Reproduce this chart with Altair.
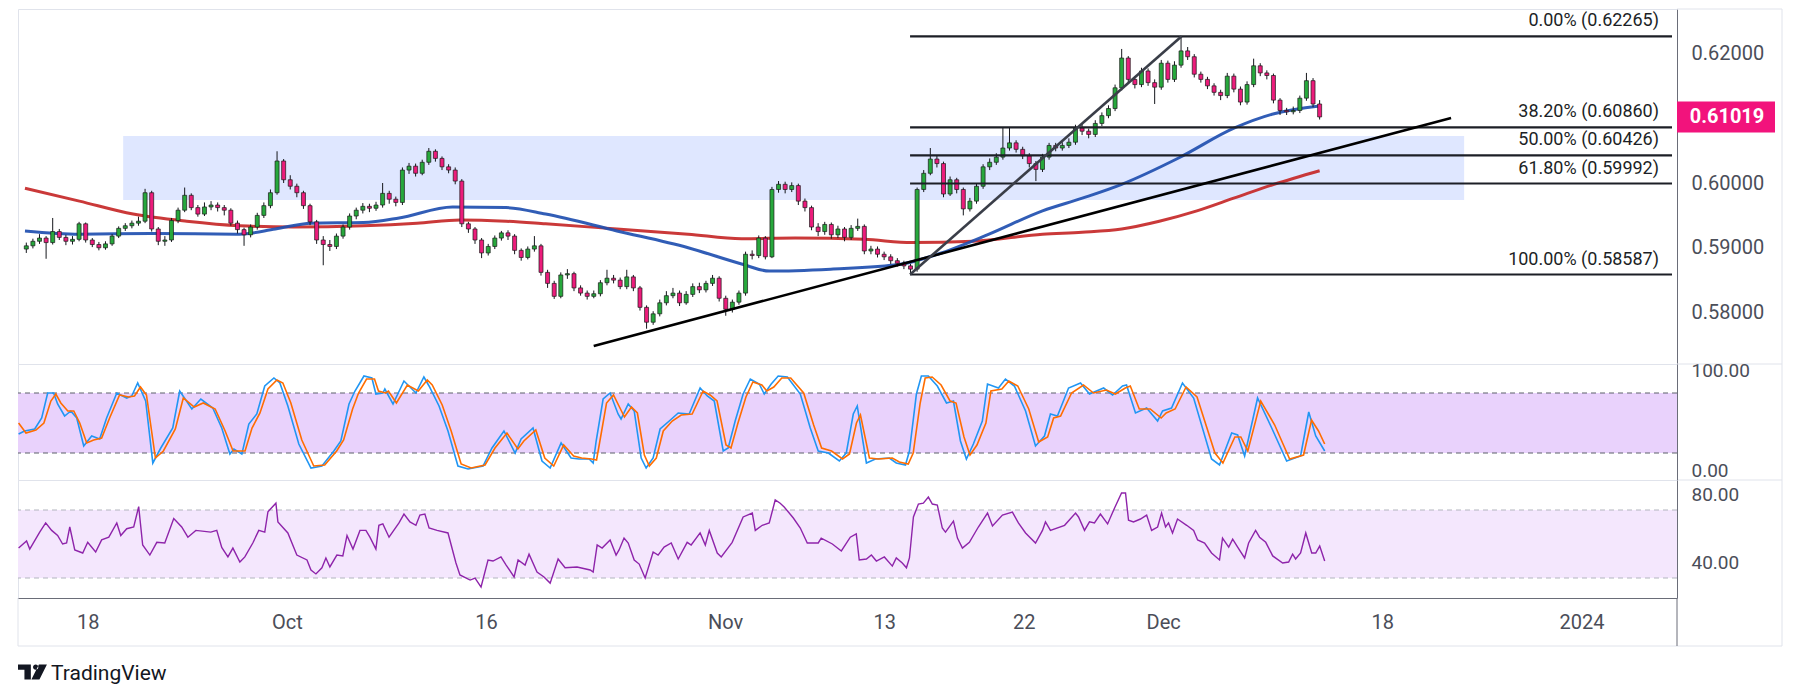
import altair as alt
import pandas as pd

# ---------------- data ----------------
TICK_DAYS = [0, 10, 20, 32, 40, 47, 54, 65, 75]
TICK_LABELS = ["18", "Oct", "16", "Nov", "13", "22", "Dec", "18", "2024"]

BARS_PER_DAY = 3
FIRST_BAR_DAY = -10 / 3
FIRST_OPEN = 5898  # price in 1e-4 units

CLOSE = [5903,5910,5915,5908,5925,5916,5910,5913,5937,5912,
         5905,5900,5906,5918,5930,5934,5938,5941,5985,5929,
         5910,5912,5942,5958,5981,5962,5952,5963,5966,5962,
         5958,5938,5928,5920,5932,5950,5965,5985,6034,6005,
         5995,5985,5965,5940,5912,5905,5902,5918,5932,5949,
         5958,5964,5961,5966,5984,5975,5970,6020,6026,6015,
         6032,6049,6038,6025,6020,6003,5937,5929,5912,5892,
         5902,5915,5923,5918,5896,5885,5898,5903,5862,5845,
         5825,5858,5860,5838,5830,5825,5829,5846,5853,5850,
         5840,5855,5838,5808,5785,5798,5815,5826,5830,5815,
         5828,5840,5835,5845,5853,5822,5805,5816,5830,5890,
         5888,5915,5886,5990,5998,5990,5996,5972,5962,5932,
         5925,5936,5920,5929,5916,5930,5933,5895,5898,5890,
         5886,5880,5876,5872,5867,5990,6015,6037,6030,5983,
         6005,5990,5960,5972,5995,6025,6032,6040,6054,6062,
         6052,6042,6030,6021,6040,6058,6054,6058,6063,6085,
         6080,6075,6092,6104,6115,6147,6193,6160,6152,6173,
         6155,6148,6185,6160,6182,6204,6195,6168,6160,6150,
         6140,6135,6165,6145,6125,6152,6181,6170,6166,6128,
         6112,6110,6112,6131,6158,6122,6102]
HIGH = [5908,5914,5921,5918,5946,5929,5920,5918,5940,5939,
        5915,5909,5910,5921,5933,5938,5942,5948,5991,5988,
        5932,5918,5946,5962,5993,5984,5966,5970,5972,5970,
        5966,5961,5942,5931,5936,5954,5970,5990,6049,6037,
        6012,5999,5988,5968,5943,5918,5912,5922,5936,5953,
        5962,5969,5968,5971,6000,5988,5979,6024,6031,6030,
        6036,6054,6052,6041,6029,6024,6006,5940,5932,5915,
        5906,5919,5926,5927,5921,5899,5902,5918,5906,5866,
        5849,5862,5867,5863,5842,5834,5834,5850,5866,5858,
        5854,5866,5858,5841,5811,5802,5820,5833,5838,5834,
        5833,5845,5846,5849,5858,5856,5826,5820,5834,5894,
        5896,5919,5918,5994,6003,6002,6001,5999,5976,5965,
        5938,5940,5939,5934,5932,5935,5945,5936,5903,5902,
        5894,5890,5884,5880,5875,5993,6020,6054,6042,6033,
        6010,6008,5993,5977,5999,6029,6038,6046,6085,6085,
        6066,6056,6046,6034,6045,6062,6062,6063,6069,6090,
        6091,6084,6097,6109,6120,6152,6207,6196,6165,6178,
        6177,6160,6190,6189,6188,6227,6210,6199,6172,6164,
        6154,6144,6170,6169,6149,6157,6192,6185,6174,6169,
        6131,6116,6118,6135,6170,6162,6128]
LOW = [5892,5899,5906,5883,5905,5912,5904,5905,5910,5908,
       5901,5896,5897,5903,5915,5926,5930,5934,5938,5925,
       5904,5903,5909,5938,5955,5958,5948,5949,5958,5956,
       5950,5934,5922,5903,5916,5928,5946,5961,5982,6000,
       5990,5978,5960,5935,5906,5873,5895,5898,5914,5928,
       5944,5953,5955,5957,5962,5968,5964,5966,6014,6010,
       6012,6028,6033,6020,6015,5998,5932,5923,5906,5884,
       5888,5898,5911,5912,5890,5880,5882,5894,5857,5838,
       5821,5822,5852,5833,5826,5820,5822,5825,5842,5845,
       5836,5836,5833,5803,5775,5781,5794,5811,5822,5810,
       5812,5824,5830,5831,5841,5817,5795,5800,5812,5826,
       5882,5884,5882,5884,5985,5984,5986,5966,5956,5927,
       5918,5920,5914,5915,5910,5912,5926,5890,5890,5885,
       5881,5875,5871,5867,5859,5863,5986,6012,6024,5978,
       5980,5984,5950,5956,5968,5991,6020,6028,6036,6050,
       6047,6037,6024,6003,6017,6036,6049,6050,6054,6059,
       6074,6069,6071,6088,6100,6111,6143,6155,6146,6148,
       6150,6122,6144,6155,6156,6178,6190,6163,6155,6145,
       6135,6128,6131,6140,6120,6121,6148,6165,6160,6123,
       6105,6105,6106,6108,6127,6117,6098]

MA200_DAY = [-3.4,-0.65,2.06,4.77,7.44,10.15,13.7,16.4,18.6,20.9,22.9,26.5,30.1,
             32.8,35.5,39.0,41.4,44.5,48.0,50.0,52.0,53.9,55.8,57.7,59.7,62.0]
MA200_VAL = [5992,5972,5952,5941,5934,5932,5934,5938,5943,5941,5937,5929,5921,
             5914,5915,5913,5908,5910,5921,5924,5929,5941,5957,5977,5998,6019]
MA50_DAY = [-3.4,-0.65,2.96,7.44,9.25,11.06,13.7,15.5,18.2,20.9,22.9,26.5,30.1,
            32.8,34.2,37.3,40.9,42.7,45.3,48.0,50.05,52.0,54.9,57.7,59.7,62.0]
MA50_VAL = [5926,5921,5922,5921,5929,5938,5939,5946,5963,5962,5952,5926,5900,
            5875,5864,5867,5875,5890,5921,5957,5977,5998,6039,6085,6107,6119]

K_DAY = [-3.47,-3.17,-2.66,-2.31,-2.01,-1.71,-1.51,-1.16,-0.85,-0.55,
         -0.20,0.20,0.60,0.95,1.46,1.96,2.21,2.51,2.91,3.27,
         3.67,4.27,4.62,5.23,5.68,6.28,6.73,7.14,7.34,7.74,
         8.09,8.49,8.89,9.35,9.65,10.05,10.60,11.21,11.76,12.36,
         12.71,13.12,13.42,13.87,14.27,14.47,14.82,14.92,15.33,15.88,
         16.48,16.88,17.14,17.64,18.09,18.59,19.10,19.85,20.30,20.90,
         21.46,21.76,22.36,22.81,23.22,23.77,24.27,24.67,25.18,25.38,
         25.53,25.88,26.23,26.63,26.78,27.14,27.44,27.79,28.04,28.39,
         28.74,29.20,29.65,30.20,30.75,31.11,31.46,31.91,32.16,32.51,
         32.91,33.27,33.72,33.97,34.32,34.67,35.13,35.78,36.28,36.68,
         37.19,37.74,38.09,38.44,38.64,39.10,39.55,40.25,40.60,41.06,
         41.26,41.61,41.86,42.21,42.66,43.12,43.47,43.82,44.12,44.47,
         44.92,45.18,45.73,46.08,46.53,47.09,47.59,48.04,48.34,48.69,
         49.25,49.85,50.30,51.01,51.46,51.96,52.16,52.61,53.17,53.72,
         53.97,54.42,54.97,55.53,56.43,56.83,57.44,57.74,58.09,58.74,
         59.45,60.20,60.90,61.31,61.66,62.11]
K_VAL = [39,42,44,55,80,80,69,57,62,55,
         27,37,34,55,80,75,77,90,72,10,
         25,45,82,64,74,65,45,19,24,19,
         49,59,87,95,90,67,29,5,7,22,
         32,69,82,97,95,79,80,84,69,92,
         80,96,87,67,42,7,4,7,25,42,
         20,34,45,12,5,30,15,14,14,10,
         32,74,80,59,54,69,62,15,5,15,
         44,52,60,59,85,77,72,22,25,52,
         79,94,89,79,89,97,96,79,45,22,
         20,12,20,59,67,10,14,15,10,8,
         22,79,97,97,87,70,72,32,14,29,
         52,89,85,94,87,62,27,37,59,57,
         85,90,79,85,78,87,88,60,65,52,
         62,65,90,75,14,8,40,38,17,75,
         45,12,17,61,37,22]

D_DAY = [-3.47,-3.1,-2.6,-2.2,-1.85,-1.6,-1.35,-1.0,-0.7,-0.4,
         -0.05,0.3,0.7,1.1,1.6,2.05,2.35,2.65,2.95,3.4,
         3.8,4.4,4.8,5.35,5.8,6.4,6.9,7.3,7.55,7.9,
         8.25,8.65,9.05,9.5,9.8,10.2,10.75,11.35,11.9,12.5,
         12.85,13.3,13.6,14.0,14.4,14.6,14.95,15.1,15.5,16.05,
         16.6,17.05,17.3,17.8,18.25,18.75,19.25,19.95,20.45,21.05,
         21.6,21.9,22.5,22.95,23.4,23.9,24.4,24.8,25.3,25.55,
         25.7,26.05,26.4,26.8,26.95,27.3,27.6,27.95,28.2,28.55,
         28.9,29.35,29.8,30.35,30.9,31.25,31.6,32.05,32.3,32.65,
         33.05,33.4,33.85,34.1,34.45,34.85,35.3,35.95,36.45,36.85,
         37.35,37.9,38.25,38.6,38.8,39.25,39.7,40.4,40.75,41.2,
         41.45,41.8,42.05,42.4,42.85,43.3,43.6,44.0,44.3,44.65,
         45.1,45.35,45.9,46.25,46.7,47.25,47.75,48.2,48.5,48.85,
         49.4,50.0,50.5,51.15,51.6,52.1,52.35,52.8,53.35,53.9,
         54.15,54.6,55.15,55.7,56.6,57.0,57.6,57.9,58.25,58.9,
         59.6,60.35,61.05,61.45,61.8,62.11]
D_VAL = [50,40,43,50,72,79,70,62,62,50,
         30,33,35,55,78,76,77,86,78,15,
         22,44,75,66,70,64,42,22,22,22,
         45,60,84,93,90,70,33,7,8,22,
         33,64,80,94,94,82,80,82,70,88,
         82,93,88,68,42,9,5,8,25,40,
         24,32,43,15,7,28,17,15,14,13,
         30,70,78,62,56,66,60,18,7,15,
         42,52,58,59,82,78,72,28,25,50,
         76,91,88,82,86,95,95,80,48,25,
         22,14,19,50,58,15,14,15,11,9,
         20,70,95,96,88,72,70,36,18,28,
         50,82,84,92,87,64,31,36,55,57,
         80,88,80,83,79,85,87,64,64,55,
         60,64,86,76,20,10,36,36,22,72,
         48,14,18,53,42,29]

RSI_DAY = [-3.47,-3.07,-2.91,-2.66,-2.41,-2.11,-1.81,-1.51,-1.26,-1.06,
           -0.90,-0.65,-0.25,0.00,0.40,0.70,1.06,1.46,1.66,1.96,
           2.31,2.56,2.76,3.12,3.47,3.87,4.32,4.72,5.03,5.43,
           6.18,6.48,6.73,7.04,7.29,7.64,7.89,8.29,8.59,8.89,
           9.05,9.45,9.55,10.05,10.50,11.01,11.21,11.46,11.76,11.96,
           12.16,12.51,12.81,13.02,13.32,13.67,13.97,14.17,14.47,14.62,
           14.82,15.13,15.63,15.88,16.18,16.48,16.68,16.93,17.14,17.54,
           18.09,18.49,18.69,19.20,19.45,19.75,20.10,20.35,20.75,21.01,
           21.41,21.61,21.96,22.16,22.56,22.91,23.22,23.62,23.97,24.57,
           25.23,25.38,25.58,25.83,26.23,26.53,26.68,26.93,27.14,27.44,
           27.69,27.99,28.39,28.64,28.94,29.30,29.65,30.10,30.30,30.75,
           31.01,31.21,31.61,31.81,32.36,32.91,33.37,33.52,33.87,34.22,
           34.52,34.77,34.97,35.43,35.78,36.13,36.68,36.83,37.39,37.84,
           38.29,38.59,38.74,39.10,39.35,39.60,40.00,40.40,40.60,40.90,
           41.11,41.26,41.46,41.71,41.96,42.21,42.41,42.66,42.91,43.07,
           43.47,43.67,43.92,44.27,44.72,45.18,45.43,45.93,46.43,46.73,
           47.09,47.59,47.94,48.09,48.34,49.05,49.60,49.75,50.05,50.30,
           50.55,50.85,51.21,51.56,51.91,52.11,52.26,52.51,52.86,53.17,
           53.42,53.72,53.92,54.12,54.27,54.47,54.72,55.18,55.53,55.73,
           56.08,56.43,56.83,56.98,57.29,57.49,57.74,58.09,58.29,58.64,
           58.84,59.15,59.50,60.00,60.30,60.50,60.65,60.90,61.16,61.46,
           61.66,61.86,62.11]
RSI_VAL = [47.6,51.8,47,52,57,62.4,58,55,50,50.6,
           60,46.5,44.7,51,45.3,52.4,54,62.4,55,59,
           60,72,49.4,43.5,51,50.6,65,60,54,58,
           57,58,48,42.4,47.6,39.4,42.4,50.6,58,57,
           69,74,63,56.5,43.5,40.6,34.7,32.4,36,41.8,
           36.5,43.5,43,55,47,58,58,54,47,61,
           61.8,54,62.4,67.6,63,61,67,67.6,59.4,58,
           56.5,38.8,31.8,28.8,30,24.7,40.6,40,42.4,37.6,
           30.6,40.6,37.6,44,33.5,30.6,27,41.2,36,36.5,
           34.7,33.5,49.4,47.6,52.4,43.5,46.5,53.5,50.6,40.6,
           38.2,30,45.3,43.5,48.2,50.6,41.2,51,49.4,56.5,
           49.4,58,44.7,42.4,51,65.9,68.2,58,61,62.4,
           75.9,74,71.8,65.3,59.4,50.6,50.6,53.5,50,45.9,
           54,55.9,40.6,41.2,43.5,40,42.4,37,41.8,38.8,
           36,41.8,65.9,73.5,74,77.6,73.5,72.9,59.4,57,
           63.5,53.5,47.6,51,60,68.2,60.6,67,68.8,62.4,
           56.5,50.6,58,63,58,61,68.2,65.9,58,63,
           62.4,67.6,61.8,71.2,80,80,64,63,64.7,67,
           58,60,68.2,60,62.4,56.5,64.7,61,58,52.4,
           50.6,44.7,40.6,53.5,48.2,52.9,48.2,41.8,50.6,58,
           54,51,43,38.8,39.4,44,41.2,44.7,56.5,44.7,
           44.7,48.8,40]

ZONE_DAY = [1.56, 69.3]
ZONE_PRICE = [0.59737, 0.60726]
TREND_A_DAY = [25.33, 68.64]
TREND_A_PRICE = [0.57483, 0.61004]
TREND_B_DAY = [41.31, 55.03]
TREND_B_PRICE = [0.58587, 0.62265]
FIB_START_DAY = 41.31
FIB_LEVELS = [0.62265, 0.60860, 0.60426, 0.59992, 0.58587]
FIB_TEXT = ["0.00% (0.62265)", "38.20% (0.60860)", "50.00% (0.60426)",
            "61.80% (0.59992)", "100.00% (0.58587)"]
LAST_PRICE = 0.61019
PRICE_TICKS = [0.58, 0.59, 0.60, 0.62]
STOCH_LEVELS = [20, 80]
STOCH_TICKS = [0, 100]
RSI_LEVELS = [30, 70]
RSI_TICKS = [40, 80]

# ---------------- layout / style ----------------
X_DOMAIN = [-3.5, 79.8]
PRICE_DOMAIN = [0.57205, 0.62687]
STOCH_DOMAIN = [-7, 109]
RSI_DOMAIN = [18.24, 87.65]
W, H_MAIN, H_STO, H_RSI = 1659, 355, 116, 118
AXIS_COL = 105
BOTTOM = H_MAIN + H_STO + H_RSI + 48

FONT = "Roboto"
LBL = "#4B4E59"
AXC = "#6A6D78"
FRAME = "#E0E3EB"
UP = "#27A83C"
DN = "#EC1C7B"
PINK = "#F2137C"

# ---------------- tables ----------------
rows = []
prev = FIRST_OPEN
for i, (c, h, l) in enumerate(zip(CLOSE, HIGH, LOW)):
    rows.append(dict(d=FIRST_BAR_DAY + i / BARS_PER_DAY, o=prev / 1e4, c=c / 1e4,
                     h=h / 1e4, l=l / 1e4, up=bool(c >= prev)))
    prev = c
candles = pd.DataFrame(rows)

ma200 = pd.DataFrame({"d": MA200_DAY, "p": [v / 1e4 for v in MA200_VAL]})
ma50 = pd.DataFrame({"d": MA50_DAY, "p": [v / 1e4 for v in MA50_VAL]})
zone = pd.DataFrame({"d0": [ZONE_DAY[0]], "d1": [ZONE_DAY[1]],
                     "p0": [ZONE_PRICE[0]], "p1": [ZONE_PRICE[1]]})
trendA = pd.DataFrame({"d": TREND_A_DAY, "p": TREND_A_PRICE})
trendB = pd.DataFrame({"d": TREND_B_DAY, "p": TREND_B_PRICE})
fib = pd.DataFrame({"d0": FIB_START_DAY, "d1": X_DOMAIN[1], "p": FIB_LEVELS, "t": FIB_TEXT})
last = pd.DataFrame({"p": [LAST_PRICE], "t": [f"{LAST_PRICE:.5f}"]})
kdf = pd.DataFrame({"d": K_DAY, "v": K_VAL})
ddf = pd.DataFrame({"d": D_DAY, "v": D_VAL})
rsidf = pd.DataFrame({"d": RSI_DAY, "v": RSI_VAL})
one = pd.DataFrame({"k": [0]})

# ---------------- scales / axes ----------------
xs = alt.Scale(domain=X_DOMAIN, nice=False, zero=False)
ys = alt.Scale(domain=PRICE_DOMAIN, nice=False, zero=False)
ss = alt.Scale(domain=STOCH_DOMAIN, nice=False, zero=False)
rs = alt.Scale(domain=RSI_DOMAIN, nice=False, zero=False)

def yaxis(values, fmt, size=20, offset=0):
    return alt.Axis(orient="right", values=values, format=fmt, title=None, grid=False,
                    ticks=False, labelPadding=14, domainColor=AXC, labelColor=LBL,
                    labelFont=FONT, labelFontSize=size, labelFlush=False, labelOverlap=False,
                    labelOffset=offset)

yax = yaxis(PRICE_TICKS, ".5f")
sax = yaxis(STOCH_TICKS, ".2f", 19, -3)
rax = yaxis(RSI_TICKS, ".2f", 19, 1)

label_expr = " : ".join(f"datum.value == {d} ? '{t}'" for d, t in zip(TICK_DAYS, TICK_LABELS)) + " : ''"
xax = alt.Axis(values=TICK_DAYS, labelExpr=label_expr, title=None, grid=False, ticks=False,
               labelPadding=14, domainColor=AXC, labelColor=LBL, labelFont=FONT,
               labelFontSize=20, labelFlush=False, labelOverlap=False)

X = lambda f: alt.X(f, type="quantitative", scale=xs, axis=None)
Y = lambda f: alt.Y(f, type="quantitative", scale=ys, axis=yax)

# ---------------- main pane ----------------
zone_l = alt.Chart(zone).mark_rect(color="#DFE7FF").encode(
    x=X("d0"), x2="d1", y=Y("p0"), y2="p1")
ma200_l = alt.Chart(ma200).mark_line(color="#C62828", strokeWidth=3, interpolate="monotone",
                                     opacity=0.92).encode(x=X("d"), y=Y("p"))
ma50_l = alt.Chart(ma50).mark_line(color="#1F4FB0", strokeWidth=3, interpolate="monotone",
                                   opacity=0.92).encode(x=X("d"), y=Y("p"))
wick_l = alt.Chart(candles).mark_rule(color="#15171C", strokeWidth=1).encode(
    x=X("d"), y=Y("l"), y2="h")
body_l = alt.Chart(candles).mark_bar(size=4, stroke="#1A1A1A", strokeWidth=0.7).encode(
    x=X("d"), y=Y("o"), y2="c",
    fill=alt.condition("datum.up", alt.value(UP), alt.value(DN)))
fib_l = alt.Chart(fib).mark_rule(color="#1C1F26", strokeWidth=2.2).encode(
    x=X("d0"), x2="d1", y=Y("p"))
fibt_l = alt.Chart(fib).mark_text(align="right", baseline="middle", dx=-13, dy=-15,
                                  fontSize=18, font=FONT, color="#1C1F26").encode(
    x=X("d1"), y=Y("p"), text="t:N")
trA_l = alt.Chart(trendA).mark_line(color="#000000", strokeWidth=2.6).encode(x=X("d"), y=Y("p"))
trB_l = alt.Chart(trendB).mark_line(color="#3A3E48", strokeWidth=2.6).encode(x=X("d"), y=Y("p"))

RECT_PATH = "M-1,-0.316L1,-0.316L1,0.316L-1,0.316Z"
box_l = alt.Chart(last).mark_point(shape=RECT_PATH, size=98 * 98, filled=True, fill=PINK,
                                   opacity=1, strokeWidth=0).encode(
    x=alt.value(W + 49), y=Y("p"))
boxt_l = alt.Chart(last).mark_text(color="white", fontSize=20, fontWeight="bold", font=FONT,
                                   align="center", baseline="middle").encode(
    x=alt.value(W + 50), y=Y("p"), text="t:N")

def hline(x0, x1, y, color=FRAME):
    return alt.Chart(one).mark_rule(color=color, strokeWidth=1).encode(
        x=alt.value(x0), x2=alt.value(x1), y=alt.value(y))

def vline(x, y0, y1, color=FRAME):
    return alt.Chart(one).mark_rule(color=color, strokeWidth=1).encode(
        x=alt.value(x), y=alt.value(y0), y2=alt.value(y1))

frame = [
    hline(W, W + AXIS_COL, 0),
    hline(W, W + AXIS_COL, H_MAIN),
    hline(W, W + AXIS_COL, H_MAIN + H_STO),
    vline(W + AXIS_COL, 0, BOTTOM),
    hline(0, W + AXIS_COL, BOTTOM),
    vline(0, H_MAIN + H_STO + H_RSI, BOTTOM),
    vline(W, H_MAIN + H_STO + H_RSI, BOTTOM, AXC),
]

main = alt.layer(zone_l, ma200_l, ma50_l, wick_l, body_l, fib_l, fibt_l, trA_l, trB_l,
                 box_l, boxt_l, *frame).properties(width=W, height=H_MAIN)

# ---------------- stochastic pane ----------------
SY = lambda f: alt.Y(f, type="quantitative", scale=ss, axis=sax)
sband = alt.Chart(pd.DataFrame({"a": [STOCH_LEVELS[0]], "b": [STOCH_LEVELS[1]]})).mark_rect(
    color="#E9D2FC").encode(x=alt.value(0), x2=alt.value(W), y=SY("a"), y2="b")
slev = alt.Chart(pd.DataFrame({"v": STOCH_LEVELS})).mark_rule(
    color="#5D606B", strokeDash=[5, 4], strokeWidth=1).encode(y=SY("v"))
kline = alt.Chart(kdf).mark_line(color="#2196F3", strokeWidth=1.6).encode(x=X("d"), y=SY("v"))
dline = alt.Chart(ddf).mark_line(color="#FF6D00", strokeWidth=1.6).encode(x=X("d"), y=SY("v"))
stoch = alt.layer(sband, slev, kline, dline).properties(width=W, height=H_STO)

# ---------------- RSI pane ----------------
XR = lambda f: alt.X(f, type="quantitative", scale=xs, axis=xax)
RY = lambda f: alt.Y(f, type="quantitative", scale=rs, axis=rax)
rband = alt.Chart(pd.DataFrame({"a": [RSI_LEVELS[0]], "b": [RSI_LEVELS[1]]})).mark_rect(
    color="#F4E7FD").encode(x=alt.value(0), x2=alt.value(W), y=RY("a"), y2="b")
rlev = alt.Chart(pd.DataFrame({"v": RSI_LEVELS})).mark_rule(
    color="#B2B5BE", strokeDash=[5, 4], strokeWidth=1).encode(y=RY("v"))
rline = alt.Chart(rsidf).mark_line(color="#8E24AA", strokeWidth=1.4).encode(x=XR("d"), y=RY("v"))

LOGO_PATH = ("M-1,-0.571L-0.143,-0.571L-0.143,0.429L-0.571,0.429L-0.571,-0.214L-1,-0.214Z"
             "M0,-0.393A0.179,0.179 0 1,0 0.358,-0.393A0.179,0.179 0 1,0 0,-0.393Z"
             "M0.393,-0.571L0.929,-0.571L0.429,0.429L-0.107,0.429Z")
logo = alt.Chart(one).mark_point(shape=LOGO_PATH, size=900, filled=True, fill="#131722",
                                 opacity=1, strokeWidth=0).encode(
    x=alt.value(15), y=alt.value(H_RSI + 75))
brand = alt.Chart(pd.DataFrame({"t": ["TradingView"]})).mark_text(
    align="left", baseline="middle", fontSize=21, font=FONT, color="#131722").encode(
    x=alt.value(33), y=alt.value(H_RSI + 76), text="t:N")

rsi = alt.layer(rband, rlev, rline, logo, brand).properties(width=W, height=H_RSI)

chart = alt.vconcat(main, stoch, rsi, spacing=0, bounds="flush").properties(
    padding={"left": 6, "top": 0, "right": 0, "bottom": 0},
    background="white",
).configure_view(stroke=FRAME, strokeWidth=1)

chart.save("out.html", embed_options={"renderer": "svg", "actions": False})
